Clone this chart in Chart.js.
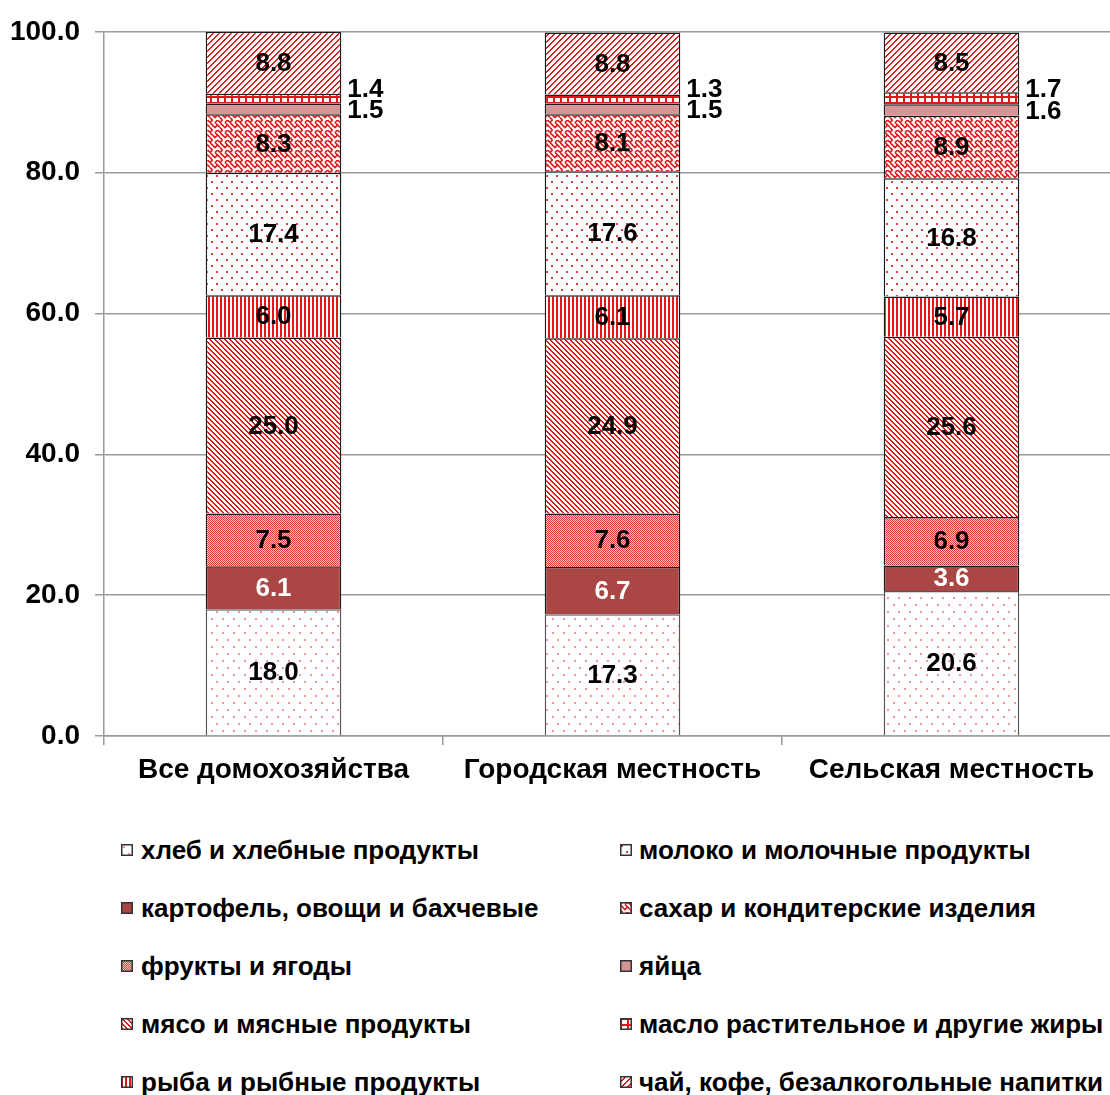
<!DOCTYPE html>
<html>
<head>
<meta charset="utf-8">
<script src="https://cdn.jsdelivr.net/npm/chart.js@4.4.1/dist/chart.umd.min.js"></script>
<style>
  body { margin: 0; background: #fff; overflow: hidden; }
  #wrap { position: relative; width: 1110px; height: 1095px; overflow: hidden; }
  #c { position: absolute; left: 0; top: 0; width: 1125px; height: 800px; }
  .item { position: absolute; height: 30px; line-height: 30px; white-space: nowrap;
          font: bold 26px "Liberation Sans", Arial, sans-serif; color: #000; }
  .item canvas { position: absolute; top: 9px; }
  .item span { position: absolute; }
</style>
</head>
<body>
<div id="wrap">
  <canvas id="c" width="1125" height="800"></canvas>
  <div id="legend"></div>
</div>
<script>
// категории и значения (структура потребительских расходов на питание, %)
const categories = ['Все домохозяйства', 'Городская местность', 'Сельская местность'];
const seriesNames = [
  'хлеб и хлебные продукты',
  'картофель, овощи и бахчевые',
  'фрукты и ягоды',
  'мясо и мясные продукты',
  'рыба и рыбные продукты',
  'молоко и молочные продукты',
  'сахар и кондитерские изделия',
  'яйца',
  'масло растительное и другие жиры',
  'чай, кофе, безалкогольные напитки'
];
const bread    = [18.0, 17.3, 20.6];
const potatoes = [6.1, 6.7, 3.6];
const fruit    = [7.5, 7.6, 6.9];
const meat     = [25.0, 24.9, 25.6];
const fish     = [6.0, 6.1, 5.7];
const milk     = [17.4, 17.6, 16.8];
const sugar    = [8.3, 8.1, 8.9];
const eggs     = [1.5, 1.5, 1.6];
const oil      = [1.4, 1.3, 1.7];
const tea      = [8.8, 8.8, 8.5];
const yTicks   = [0, 20, 40, 60, 80, 100];

const values = [bread, potatoes, fruit, meat, fish, milk, sugar, eggs, oil, tea];

const RED = '#e01818';

function tile(w, h, draw) {
  const c = document.createElement('canvas');
  c.width = w; c.height = h;
  const g = c.getContext('2d');
  g.fillStyle = '#fff';
  g.fillRect(0, 0, w, h);
  draw(g);
  return c;
}

// маленькие плитки для штриховок как в Excel
const tiles = [
  tile(11, 14, g => { g.fillStyle = '#f09898'; g.fillRect(2, 2, 2, 2); g.fillRect(7, 9, 2, 2); }),
  null,
  tile(2, 2, g => { g.fillStyle = '#f6c8c8'; g.fillRect(0, 0, 2, 2); g.fillStyle = '#de3a3a'; g.fillRect(0, 0, 1, 1); g.fillRect(1, 1, 1, 1); }),
  tile(5, 5, g => { g.fillStyle = RED; for (let i = 0; i < 5; i++) { g.fillRect(i, i, 1, 1); g.fillRect((i + 1) % 5, i, 1, 1); } }),
  tile(4, 1, g => { g.fillStyle = RED; g.fillRect(0, 0, 2, 1); }),
  tile(10, 12, g => { g.fillStyle = '#e03a3a'; g.fillRect(1, 1, 2, 2); g.fillRect(6, 7, 2, 2); }),
  tile(10, 10, g => {
    g.strokeStyle = RED; g.lineWidth = 1.6;
    g.beginPath();
    g.moveTo(0, 2.5); g.lineTo(2.5, 0); g.moveTo(0, 2.5); g.lineTo(5, 7.5); g.lineTo(7.5, 5); g.lineTo(10, 7.5);
    g.moveTo(5, 2.5); g.lineTo(7.5, 0); g.moveTo(5, 2.5); g.lineTo(7.5, 5);
    g.moveTo(0, 7.5); g.lineTo(2.5, 10); g.moveTo(10, 2.5); g.lineTo(7.5, 0);
    g.stroke();
  }),
  null,
  tile(7, 6, g => { g.fillStyle = RED; g.fillRect(0, 0, 2, 6); g.fillRect(0, 0, 7, 2); }),
  tile(6, 6, g => { g.fillStyle = RED; for (let i = 0; i < 6; i++) { g.fillRect(5 - i, i, 1, 1); g.fillRect((6 - i) % 6, i, 1, 1); } })
];
const solids = { 1: '#aa4644', 7: '#d69595' };

function fillFor(ctx, i) {
  if (solids[i]) return solids[i];
  return ctx.createPattern(tiles[i], 'repeat');
}

const canvas = document.getElementById('c');
const ctx = canvas.getContext('2d');

Chart.defaults.font.family = '"Liberation Sans", Arial, sans-serif';
Chart.defaults.color = '#000';

const datasets = seriesNames.map((name, i) => ({
  label: name,
  data: values[i],
  backgroundColor: fillFor(ctx, i),
  borderColor: i === 0 ? '#555' : '#1a1a1a',
  borderWidth: 1.5,
  barPercentage: 0.4,
  categoryPercentage: 1.0
}));

// подписи значений
const valueLabels = {
  id: 'valueLabels',
  afterDatasetsDraw(chart) {
    const c = chart.ctx;
    c.save();
    c.font = 'bold 26px "Liberation Sans", Arial, sans-serif';
    c.textBaseline = 'middle';
    chart.data.datasets.forEach((ds, di) => {
      chart.getDatasetMeta(di).data.forEach((bar, i) => {
        const text = ds.data[i].toFixed(1);
        const cy = (bar.y + bar.base) / 2;
        if (di === 7 || di === 8) {
          c.textAlign = 'left';
          c.fillStyle = '#000';
          c.fillText(text, bar.x + bar.width / 2 + 6, di === 8 ? cy - 9 : cy + 2);
        } else {
          c.textAlign = 'center';
          c.fillStyle = di === 1 ? '#fff' : '#000';
          c.fillText(text, bar.x, cy + 1);
        }
      });
    });
    c.restore();
  }
};

new Chart(ctx, {
  type: 'bar',
  data: { labels: categories, datasets: datasets },
  options: {
    responsive: false,
    animation: false,
    devicePixelRatio: 1,
    layout: { padding: { top: 30, right: 4, left: 0, bottom: 0 } },
    plugins: { legend: { display: false }, tooltip: { enabled: false } },
    scales: {
      x: {
        stacked: true,
        afterFit: s => { s.height = 64; },
        grid: { display: true, offset: true, drawOnChartArea: false, drawTicks: true, tickLength: 9, color: '#9a9a9a', lineWidth: 1.5 },
        border: { display: true, color: '#9a9a9a', width: 1.5 },
        ticks: { font: { size: 28, weight: 'bold' }, padding: 8, maxRotation: 0 }
      },
      y: {
        stacked: true,
        min: 0,
        max: 100,
        afterFit: s => { s.width = 104; },
        afterBuildTicks: s => { s.ticks = yTicks.map(v => ({ value: v })); },
        grid: { color: '#9a9a9a', lineWidth: 1.5, tickLength: 9 },
        border: { display: true, color: '#9a9a9a', width: 1.5 },
        ticks: { font: { size: 28, weight: 'bold' }, padding: 15, callback: v => v.toFixed(1) }
      }
    }
  },
  plugins: [valueLabels]
});

// легенда в две колонки
const legend = document.getElementById('legend');
const rowY = [850, 908, 966, 1024, 1082];
seriesNames.forEach((name, i) => {
  const col = i < 5 ? 0 : 1;
  const row = i % 5;
  const item = document.createElement('div');
  item.className = 'item';
  item.style.left = (col === 0 ? 121 : 620) + 'px';
  item.style.top = (rowY[row] - 15) + 'px';
  const sw = document.createElement('canvas');
  sw.width = 12; sw.height = 12;
  const g = sw.getContext('2d');
  g.fillStyle = fillFor(g, i);
  g.fillRect(0, 0, 12, 12);
  g.strokeStyle = '#333';
  g.lineWidth = 1.5;
  g.strokeRect(0.75, 0.75, 10.5, 10.5);
  item.appendChild(sw);
  const t = document.createElement('span');
  t.style.left = (col === 0 ? 20 : 19) + 'px';
  t.textContent = name;
  item.appendChild(t);
  legend.appendChild(item);
});
</script>
</body>
</html>
